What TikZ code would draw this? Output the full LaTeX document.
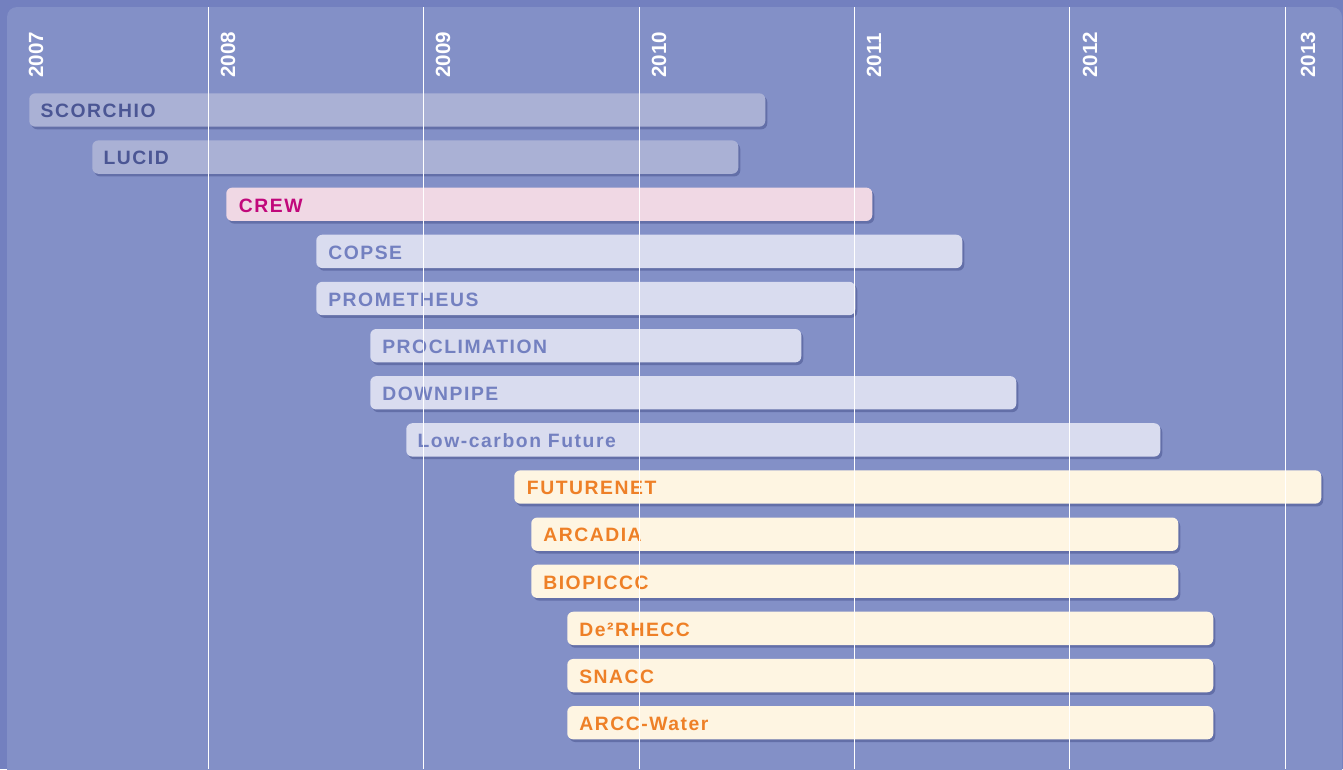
\documentclass[tikz,border=0pt]{standalone}
\usepackage{fontspec}
\setmainfont{Liberation Sans}
\newfontfamily\barfont[LetterSpace=8]{Liberation Sans}
\usetikzlibrary{shadows}
\definecolor{frame}{HTML}{7380BF}
\definecolor{panel}{HTML}{8390C7}
\definecolor{shade}{HTML}{4A5590}
\definecolor{oldfill}{HTML}{AAB1D5}
\definecolor{oldtext}{HTML}{4B5694}
\definecolor{crewfill}{HTML}{F0D8E4}
\definecolor{crewtext}{HTML}{C1087B}
\definecolor{midfill}{HTML}{D9DCEF}
\definecolor{midtext}{HTML}{7380C0}
\definecolor{newfill}{HTML}{FEF5E2}
\definecolor{newtext}{HTML}{EE8027}

\begin{document}
\begin{tikzpicture}[x=0.75pt,y=-0.75pt,
  bar/.style={rounded corners=4.5pt, inner sep=0pt, minimum height=25pt, anchor=west,
    drop shadow={shadow xshift=1.5pt, shadow yshift=-2pt, fill=shade, opacity=0.55}},
  oldbar/.style={bar, fill=oldfill},
  crewbar/.style={bar, fill=crewfill},
  midbar/.style={bar, fill=midfill},
  newbar/.style={bar, fill=newfill},
  label/.style={anchor=base west, inner sep=0pt, font=\barfont\bfseries\fontsize{14.5}{15}\selectfont},
  year/.style={rotate=90, anchor=base west, inner sep=0pt, text=white,
    font=\bfseries\fontsize{15.4}{16}\selectfont},
  yearline/.style={white, line width=0.8pt}]

  \useasboundingbox (0,0) rectangle (1343,769);
  \fill[frame] (0,0) rectangle (1343,769);
  \fill[panel, rounded corners=7.5pt] (7,7) rectangle (1342,800);

  % project bars
  \node[oldbar, minimum width=552pt] (scorchio) at (29,110) {};
  \node[oldbar, minimum width=484.5pt] (lucid) at (92,157.1) {};
  \node[crewbar, minimum width=484.5pt] (crew) at (226,204.3) {};
  \node[midbar, minimum width=484.5pt] (copse) at (316,251.4) {};
  \node[midbar, minimum width=404.25pt] (prometheus) at (316,298.5) {};
  \node[midbar, minimum width=323.25pt] (proclimation) at (370,345.7) {};
  \node[midbar, minimum width=484.5pt] (downpipe) at (370,392.8) {};
  \node[midbar, minimum width=565.5pt] (lowcarbon) at (406,439.9) {};
  \node[newbar, minimum width=605.25pt] (futurenet) at (514,487) {};
  \node[newbar, minimum width=485.25pt] (arcadia) at (531,534.2) {};
  \node[newbar, minimum width=485.25pt] (biopiccc) at (531,581.3) {};
  \node[newbar, minimum width=484.5pt] (derhecc) at (567,628.4) {};
  \node[newbar, minimum width=484.5pt] (snacc) at (567,675.6) {};
  \node[newbar, minimum width=484.5pt] (arccwater) at (567,722.7) {};

  % project names
  \node[label, text=oldtext] (scorchio name) at ([xshift=8.5pt,yshift=-5.8pt]scorchio.west) {SCORCHIO};
  \node[label, text=oldtext] (lucid name) at ([xshift=8.5pt,yshift=-5.8pt]lucid.west) {LUCID};
  \node[label, text=crewtext] (crew name) at ([xshift=9.5pt,yshift=-5.8pt]crew.west) {CREW};
  \node[label, text=midtext] (copse name) at ([xshift=9pt,yshift=-5.8pt]copse.west) {COPSE};
  \node[label, text=midtext] (prometheus name) at ([xshift=9pt,yshift=-5.8pt]prometheus.west) {PROMETHEUS};
  \node[label, text=midtext] (proclimation name) at ([xshift=9pt,yshift=-5.8pt]proclimation.west) {PROCLIMATION};
  \node[label, text=midtext] (downpipe name) at ([xshift=9pt,yshift=-5.8pt]downpipe.west) {DOWNPIPE};
  \node[label, text=midtext] (lowcarbon name) at ([xshift=8.5pt,yshift=-5.8pt]lowcarbon.west) {Low-carbon Future};
  \node[label, text=newtext] (futurenet name) at ([xshift=9.5pt,yshift=-5.8pt]futurenet.west) {FUTURENET};
  \node[label, text=newtext] (arcadia name) at ([xshift=9pt,yshift=-5.8pt]arcadia.west) {ARCADIA};
  \node[label, text=newtext] (biopiccc name) at ([xshift=9pt,yshift=-5.8pt]biopiccc.west) {BIOPICCC};
  \node[label, text=newtext] (derhecc name) at ([xshift=9pt,yshift=-5.8pt]derhecc.west) {De²RHECC};
  \node[label, text=newtext] (snacc name) at ([xshift=9pt,yshift=-5.8pt]snacc.west) {SNACC};
  \node[label, text=newtext] (arccwater name) at ([xshift=9pt,yshift=-5.8pt]arccwater.west) {ARCC-Water};

  % year grid
  \draw[yearline] (208.3,7) -- (208.3,769);
  \draw[yearline] (423.7,7) -- (423.7,769);
  \draw[yearline] (639.1,7) -- (639.1,769);
  \draw[yearline] (854.5,7) -- (854.5,769);
  \draw[yearline] (1069.9,7) -- (1069.9,769);
  \draw[yearline] (1285.3,7) -- (1285.3,769);

  \node[year] (y2007) at (43,78) {2007};
  \node[year] (y2008) at (235,78) {2008};
  \node[year] (y2009) at (450,78) {2009};
  \node[year] (y2010) at (666,78) {2010};
  \node[year] (y2011) at (881,78) {2011};
  \node[year] (y2012) at (1097,78) {2012};
  \node[year] (y2013) at (1315,78) {2013};
\end{tikzpicture}
\end{document}
